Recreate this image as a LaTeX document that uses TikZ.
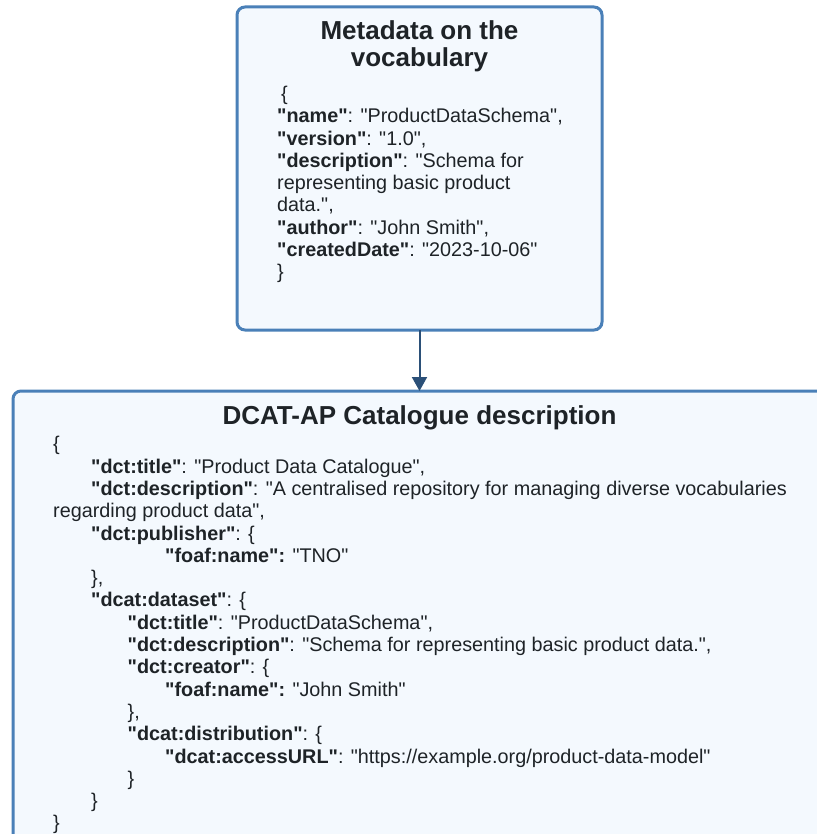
\documentclass[tikz,border=0pt]{standalone}
\usepackage{fontspec}
\setmainfont{Liberation Sans}[Ligatures=TeXOff]
\usetikzlibrary{arrows.meta}
\definecolor{boxblue}{HTML}{4A80B8}
\definecolor{boxfill}{HTML}{F4F9FE}
\definecolor{arrowblue}{HTML}{2B5078}
\definecolor{inkgray}{HTML}{1E2327}
\newcommand\jkey[1]{\textbf{"#1"}}
\newcommand\indI{\hspace*{38pt}}
\newcommand\indII{\hspace*{74.5pt}}
\newcommand\indIII{\hspace*{112pt}}
\tikzset{
	card/.style={draw=boxblue, fill=boxfill, line width=3pt, rounded corners=8pt, inner sep=0pt, outer sep=0pt, anchor=north west},
	cardtitle/.style={anchor=north, align=center, inner sep=0pt, text=inkgray, font=\fontsize{26}{27.5}\selectfont\bfseries},
	cardbody/.style={anchor=north west, align=left, inner sep=0pt, text=inkgray, font=\fontsize{19.8}{22.3}\selectfont},
	flow/.style={draw=arrowblue, line width=2pt, -{Triangle[length=14pt,width=15pt]}}
}
\begin{document}
\begin{tikzpicture}[x=1pt,y=-1pt]
			%%%%% START %%%%%
			
			\useasboundingbox (0,0) rectangle (816,834);
			\fill[white] (0,0) rectangle (816,834);
			
			% vocabulary metadata
			\node[card, minimum width=365pt, minimum height=323pt] (meta) at (237,7) {};
			\node[cardtitle] (metatitle) at (419.5,19.75) {\strut Metadata on the\\vocabulary};
			\node[cardbody] (metabody) at (277,84.6) {\strut\hspace*{4pt}\{\\
				\jkey{name}: "ProductDataSchema",\\
				\jkey{version}: "1.0",\\
				\jkey{description}: "Schema for\\
				representing basic product\\
				data.",\\
				\jkey{author}: "John Smith",\\
				\jkey{createdDate}: "2023-10-06"\\
				\}};
			
			% catalogue description
			\node[card, minimum width=900pt, minimum height=500pt] (dcat) at (13,391) {};
			\node[cardtitle] (dcattitle) at (419.5,404.75) {\strut DCAT-AP Catalogue description};
			\node[cardbody] (dcatbody) at (53,435) {\strut\{\\
				\indI\jkey{dct:title}: "Product Data Catalogue",\\
				\indI\jkey{dct:description}: "A centralised repository for managing diverse vocabularies\\
				regarding product data",\\
				\indI\jkey{dct:publisher}: \{\\
				\indIII\textbf{"foaf:name":} "TNO"\\
				\indI\},\\
				\indI\jkey{dcat:dataset}: \{\\
				\indII\jkey{dct:title}: "ProductDataSchema",\\
				\indII\jkey{dct:description}: "Schema for representing basic product data.",\\
				\indII\jkey{dct:creator}: \{\\
				\indIII\textbf{"foaf:name":} "John Smith"\\
				\indII\},\\
				\indII\jkey{dcat:distribution}: \{\\
				\indIII\jkey{dcat:accessURL}: "https://example.org/product-data-model"\\
				\indII\}\\
				\indI\}\\
				\}};
			
			\draw[flow] (meta.south) -- (meta.south |- dcat.north);
			
			%%%%% END %%%%%
\end{tikzpicture}
\end{document}
